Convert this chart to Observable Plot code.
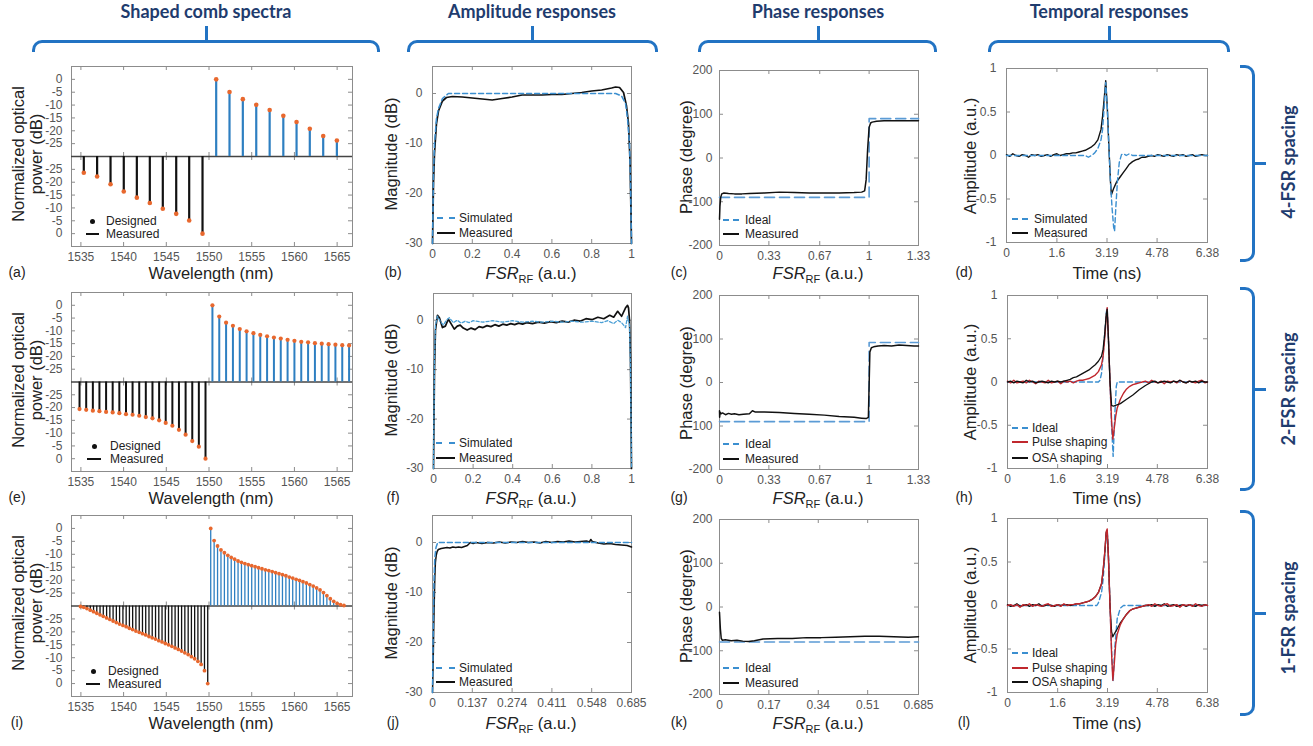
<!DOCTYPE html>
<html><head><meta charset="utf-8">
<script src="https://cdn.jsdelivr.net/npm/d3@7"></script>
<script src="https://cdn.jsdelivr.net/npm/@observablehq/plot@0.6"></script>
<style>
body{margin:0;background:#fff;}
#fig{position:relative;width:1313px;height:746px;overflow:hidden;background:#fff;font-family:"Liberation Sans",Arial,sans-serif;}
.t{position:absolute;white-space:nowrap;transform:translate(-50%,-50%);}
.rot{transform:translate(-50%,-50%) rotate(-90deg);text-align:center;}
.hdr{font-family:Lato,"Open Sans",sans-serif;font-weight:700;font-size:18px;color:#1f3c6e;}
.ttl{font-size:16.5px;color:#222;line-height:18px;}
.lt{font-size:14px;color:#222;}
.lg{position:absolute;font-size:12px;color:#222;white-space:nowrap;transform:translateY(-50%);}
.brT{position:absolute;border:3px solid #2273c3;border-bottom:none;border-radius:10px 10px 0 0;box-sizing:border-box;}
.brR{position:absolute;border:3px solid #2273c3;border-left:none;border-radius:0 10px 10px 0;box-sizing:border-box;}
.bk{position:absolute;background:#2273c3;}
sub{font-size:11px;font-style:normal;line-height:0;}
</style></head>
<body><div id="fig"></div>
<script>
// ---------------- DATA ----------------
const wlTicks = [1535,1540,1545,1550,1555,1560,1565];
const specTicks = [30,25,20,15,10,5,-5,-10,-15,-20,-25,-30];

// (a) 4-FSR spacing
const aUpWl = [1550.84,1552.40,1553.96,1555.53,1557.10,1558.70,1560.25,1561.80,1563.37,1564.97];
const aUpDb = [0,-4.9,-7.7,-9.9,-11.9,-14.2,-16.6,-19.2,-22.0,-23.8];
const aLoWl = [1535.34,1536.90,1538.47,1540.02,1541.55,1543.07,1544.59,1546.16,1547.68,1549.24];
const aLoDb = [-23.7,-22.2,-19.2,-16.4,-14.0,-11.9,-9.7,-7.7,-5.1,0];
// (e) 2-FSR spacing
const eUpWl = [1550.4,1551.2,1552.0,1552.8,1553.6,1554.4,1555.2,1556.0,1556.8,1557.6,1558.4,1559.2,1560.0,1560.8,1561.6,1562.4,1563.2,1564.0,1564.8,1565.6,1566.4];
const eUpDb = [0,-4.4,-6.8,-8.0,-9.3,-10.2,-10.9,-11.6,-12.1,-12.6,-13.0,-13.5,-13.9,-14.3,-14.5,-14.8,-15.0,-15.2,-15.4,-15.6,-15.7];
const eLoWl = [1534.84,1535.62,1536.40,1537.17,1537.95,1538.72,1539.50,1540.28,1541.05,1541.83,1542.60,1543.38,1544.16,1544.93,1545.71,1546.48,1547.26,1548.04,1548.81,1549.59];
const eLoDb = [-19.4,-19.1,-18.8,-18.6,-18.3,-18.1,-17.8,-17.4,-17.2,-16.8,-16.3,-15.8,-15.0,-14.0,-12.9,-11.3,-9.4,-6.9,-4.7,0];
// (i) 1-FSR spacing
const iUpWl = [1550.2,1550.6,1551.0,1551.4,1551.8,1552.2,1552.6,1553.0,1553.4,1553.8,1554.2,1554.6,1555.0,1555.4,1555.8,1556.2,1556.6,1557.0,1557.4,1557.8,1558.2,1558.6,1559.0,1559.4,1559.8,1560.2,1560.6,1561.0,1561.4,1561.8,1562.2,1562.6,1563.0,1563.4,1563.8,1564.2,1564.6,1565.0,1565.4,1565.8];
const iUpDb = [0,-4.7,-6.8,-8.3,-9.4,-10.4,-11.2,-11.9,-12.6,-13.1,-13.6,-14.0,-14.4,-14.8,-15.2,-15.6,-16.0,-16.3,-16.7,-17.1,-17.5,-17.9,-18.3,-18.8,-19.2,-19.7,-20.1,-20.6,-21.1,-21.7,-22.3,-23.0,-23.8,-24.8,-26.0,-27.2,-28.2,-29.0,-29.5,-29.8];
const iLoWl = [1534.95,1535.33,1535.71,1536.10,1536.48,1536.86,1537.24,1537.62,1538.01,1538.39,1538.77,1539.15,1539.53,1539.92,1540.30,1540.68,1541.06,1541.44,1541.83,1542.21,1542.59,1542.97,1543.35,1543.74,1544.12,1544.50,1544.88,1545.26,1545.65,1546.03,1546.41,1546.79,1547.17,1547.56,1547.94,1548.32,1548.70,1549.08,1549.47,1549.85];
const iLoDb = [-29.8,-29.5,-29.0,-28.4,-27.8,-27.2,-26.6,-26.0,-25.4,-24.8,-24.2,-23.6,-23.0,-22.5,-22.0,-21.4,-20.9,-20.3,-19.8,-19.3,-18.8,-18.2,-17.7,-17.2,-16.6,-16.1,-15.5,-15.0,-14.4,-13.8,-13.2,-12.6,-11.9,-11.2,-10.4,-9.6,-8.6,-7.4,-5.0,0];

// Amplitude responses
const magXTicks = [0,0.2,0.4,0.6,0.8,1];
const magXTicksJ = [0,0.137,0.274,0.411,0.548,0.685];
const magYTicks = [-30,-20,-10,0];
const bMeasX = [0,0.005,0.01,0.02,0.03,0.05,0.07,0.1,0.15,0.2,0.25,0.3,0.35,0.4,0.45,0.5,0.55,0.6,0.65,0.7,0.75,0.8,0.85,0.9,0.92,0.94,0.96,0.975,0.985,0.993,1.0];
const bMeasY = [-30,-18,-12,-6,-3.5,-1.5,-0.8,-0.6,-0.7,-0.9,-1.1,-1.3,-1.0,-0.7,-0.3,-0.3,-0.3,-0.2,-0.2,0,0.2,0.5,0.7,1.1,1.3,1.2,0.2,-2.5,-6,-14,-30];
const bSimX = [0,0.005,0.01,0.02,0.03,0.05,0.08,0.92,0.95,0.97,0.98,0.99,0.995,1.0];
const bSimY = [-30,-16,-10,-5,-3,-1,0,0,-0.5,-2,-5,-10,-18,-30];
const fMeasX = [0,0.005,0.01,0.02,0.03,0.045,0.06,0.075,0.09,0.105,0.12,0.135,0.15,0.17,0.19,0.21,0.23,0.25,0.27,0.29,0.31,0.33,0.35,0.37,0.39,0.41,0.43,0.45,0.47,0.5,0.53,0.56,0.59,0.62,0.65,0.68,0.71,0.74,0.77,0.8,0.83,0.86,0.89,0.91,0.93,0.95,0.97,0.98,0.985,0.99,0.995,1.0];
const fMeasY = [-30,-10,-2,1.0,0.5,-1.5,-1.2,0.2,-0.8,-1.8,-1.2,-1.0,-1.6,-2.0,-1.6,-1.9,-1.3,-1.5,-1.1,-1.3,-0.9,-1.2,-0.8,-1.0,-0.7,-0.9,-0.6,-0.8,-0.5,-0.7,-0.4,-0.6,-0.3,-0.5,-0.2,-0.4,0,-0.2,0.3,0.1,0.6,0.3,1.0,0.6,1.8,0.8,2.5,3.0,2.5,0,-8,-30];
const fSimX = [0,0.005,0.01,0.02,0.035,0.05,0.065,0.08,0.1,0.12,0.14,0.16,0.18,0.2,0.25,0.3,0.35,0.4,0.45,0.5,0.55,0.6,0.65,0.7,0.75,0.8,0.85,0.88,0.91,0.93,0.95,0.97,0.98,0.99,0.995,1.0];
const fSimY = [-30,-8,-1,0.8,-0.3,-1.0,0,0.5,-0.5,0,-0.6,-0.2,-0.5,-0.1,-0.4,-0.1,-0.4,-0.1,-0.4,-0.2,-0.4,-0.2,-0.4,-0.2,-0.4,-0.2,-0.5,-0.1,-0.7,0,-0.5,-1.5,0.8,-1,-10,-30];
const jMeasX = [0,0.002,0.004,0.006,0.008,0.01,0.013,0.016,0.02,0.03,0.04,0.05,0.06,0.07,0.08,0.09,0.1,0.11,0.12,0.125,0.13,0.14,0.15,0.17,0.19,0.21,0.23,0.25,0.27,0.29,0.31,0.33,0.35,0.37,0.39,0.41,0.43,0.45,0.47,0.49,0.51,0.53,0.54,0.545,0.55,0.57,0.59,0.61,0.63,0.65,0.67,0.685];
const jMeasY = [-30,-25,-18,-12,-7,-4,-2.5,-1.8,-1.4,-1.2,-1.1,-1.0,-1.1,-0.9,-1.0,-0.9,-1.0,-0.8,-0.6,-0.3,0,-0.2,0,-0.2,0,-0.1,0.1,-0.1,0.1,0,0.2,0,0.1,-0.1,0.2,0,0.2,0.1,0.3,0.1,0.2,0.3,0.1,0.6,0.2,-0.1,-0.3,-0.2,-0.4,-0.5,-0.6,-0.9];
const jSimX = [0,0.002,0.005,0.008,0.012,0.018,0.685];
const jSimY = [-30,-20,-8,-3,-1,0,0];

// Phase responses
const phXTicks = [0,0.33,0.67,1,1.33];
const phXTicksK = [0,0.17,0.34,0.51,0.685];
const phYTicks = [-200,-100,0,100,200];
const cMeasX = [0,0.003,0.008,0.015,0.03,0.06,0.1,0.15,0.2,0.3,0.4,0.5,0.6,0.7,0.8,0.9,0.95,0.97,0.98,0.99,1.0,1.01,1.02,1.05,1.1,1.2,1.33];
const cMeasY = [-140,-110,-90,-82,-80,-81,-82,-82,-81,-80,-78,-79,-80,-80,-80,-79,-78,-75,-50,20,70,80,82,84,85,85,85];
const cIdealX = [0,1,1,1.33];
const cIdealY = [-90,-90,90,90];
const gMeasX = [0,0.001,0.004,0.01,0.02,0.04,0.06,0.08,0.1,0.13,0.16,0.2,0.22,0.24,0.3,0.4,0.5,0.6,0.7,0.8,0.9,0.95,0.98,0.995,1.005,1.015,1.03,1.06,1.1,1.15,1.2,1.25,1.3,1.33];
const gMeasY = [-65,-80,-68,-72,-70,-74,-71,-73,-72,-74,-73,-72,-65,-68,-68,-69,-71,-73,-75,-78,-80,-82,-83,-80,70,80,82,84,85,84,86,85,84,84];
const gIdealX = [0,1,1,1.33];
const gIdealY = [-90,-90,92,92];
const kMeasX = [0,0.003,0.006,0.01,0.02,0.04,0.06,0.08,0.1,0.12,0.15,0.2,0.25,0.3,0.35,0.4,0.45,0.5,0.55,0.6,0.65,0.685];
const kMeasY = [-12,-50,-72,-76,-75,-77,-76,-78,-79,-77,-73,-72,-72,-70,-70,-69,-68,-67,-67,-68,-69,-68];
const kIdealX = [0,0.685];
const kIdealY = [-80,-80];

// Temporal responses
const tXTicks = [0,1.6,3.19,4.78,6.38];
const tYTicks = [-1,-0.5,0,0.5,1];
const dMeasT = [0,0.1,0.2,0.3,0.4,0.5,0.6,0.7,0.8,0.9,1.0,1.1,1.2,1.3,1.4,1.5,1.6,1.7,1.8,1.9,2.0,2.1,2.2,2.3,2.4,2.5,2.6,2.7,2.8,2.9,3.0,3.05,3.1,3.15,3.2,3.25,3.3,3.33,3.4,3.5,3.6,3.7,3.8,3.9,4.0,4.1,4.2,4.3,4.4,4.5,4.6,4.7,4.8,4.9,5.0,5.1,5.2,5.3,5.4,5.5,5.6,5.7,5.8,5.9,6.0,6.1,6.2,6.3,6.38];
const dMeasA = [0.01,-0.01,0.02,0,-0.01,0.01,0,-0.02,0.01,0,0.01,-0.01,0,0.01,-0.01,0.01,0.02,0,0.01,0.02,0.02,0.03,0.03,0.04,0.05,0.06,0.08,0.1,0.13,0.18,0.3,0.45,0.65,0.86,0.55,0.1,-0.3,-0.45,-0.38,-0.3,-0.25,-0.2,-0.15,-0.1,-0.07,-0.05,-0.04,-0.02,-0.02,-0.01,0,-0.01,0.01,0,-0.01,0.01,0,-0.01,0.01,0,0.01,-0.01,0,0.01,-0.01,0,0.01,0,0];
const dSimT = [0,2.5,2.6,2.7,2.8,2.9,3.0,3.05,3.1,3.15,3.2,3.25,3.3,3.35,3.4,3.43,3.47,3.52,3.58,3.65,3.72,3.8,3.9,4.0,4.1,6.38];
const dSimA = [0,0,-0.02,0,0.03,0.08,0.18,0.3,0.55,0.84,0.55,0.1,-0.3,-0.6,-0.82,-0.87,-0.6,-0.3,-0.08,0.01,0.02,0,0.02,0,0,0];
const hIdealT = [0,2.9,2.95,3.0,3.05,3.1,3.15,3.18,3.22,3.27,3.32,3.37,3.42,3.47,3.5,6.38];
const hIdealA = [0,0,0.02,0.1,0.3,0.55,0.8,0.86,0.5,0,-0.5,-0.86,-0.4,-0.05,0,0];
const hPulseT = [0,0.1,0.2,0.3,0.4,0.5,0.6,0.7,0.8,0.9,1.0,1.1,1.2,1.3,1.4,1.5,1.6,1.7,1.8,1.9,2.0,2.1,2.2,2.3,2.4,2.5,2.6,2.7,2.8,2.9,3.0,3.05,3.1,3.15,3.18,3.22,3.27,3.32,3.36,3.4,3.45,3.5,3.6,3.7,3.8,3.9,4.0,4.1,4.2,4.3,4.4,4.5,4.6,4.7,4.8,4.9,5.0,5.1,5.2,5.3,5.4,5.5,5.6,5.7,5.8,5.9,6.0,6.1,6.2,6.3,6.38];
const hPulseA = [0.01,-0.01,0.02,-0.01,0,0.01,-0.01,0.02,0,-0.02,0.01,0,-0.01,0.02,-0.01,0,0.01,-0.02,0.01,0,0.01,-0.01,0.01,0.02,0.02,0.03,0.04,0.06,0.08,0.12,0.2,0.3,0.5,0.75,0.86,0.5,0,-0.45,-0.66,-0.55,-0.4,-0.3,-0.2,-0.13,-0.08,-0.05,-0.03,-0.02,-0.01,0,0.01,-0.01,0.02,0,-0.01,0.01,-0.02,0.01,0,0.01,-0.01,0.02,0,-0.01,0.01,0,-0.01,0.01,0.02,-0.01,0];
const hOsaT = [0,0.1,0.2,0.3,0.4,0.5,0.6,0.7,0.8,0.9,1.0,1.1,1.2,1.3,1.4,1.5,1.6,1.7,1.8,1.9,2.0,2.1,2.2,2.3,2.4,2.5,2.6,2.7,2.8,2.9,3.0,3.05,3.1,3.15,3.18,3.22,3.27,3.32,3.38,3.45,3.6,3.8,4.0,4.2,4.4,4.6,4.7,4.8,4.9,5.0,5.1,5.2,5.3,5.4,5.5,5.6,5.7,5.8,5.9,6.0,6.1,6.2,6.3,6.38];
const hOsaA = [0,0.01,-0.01,0.01,0,-0.01,0.02,0,0.01,-0.01,0,0.01,0,-0.01,0.01,0,0.01,0,0.01,0.02,0.03,0.05,0.06,0.08,0.1,0.12,0.14,0.17,0.2,0.24,0.3,0.38,0.55,0.78,0.84,0.5,0,-0.27,-0.28,-0.27,-0.25,-0.2,-0.15,-0.09,-0.04,0,0.01,-0.01,0,0.01,0,-0.01,0.01,0,0.02,0,-0.01,0.01,0,0.01,-0.01,0.01,0,0];
const lIdealT = [0,2.85,2.9,3.0,3.05,3.1,3.15,3.18,3.22,3.27,3.33,3.37,3.42,3.5,3.6,3.7,6.38];
const lIdealA = [0,0,0.03,0.15,0.3,0.55,0.82,0.87,0.6,0,-0.6,-0.87,-0.5,-0.15,-0.03,0,0];
const lT = [0,0.1,0.2,0.3,0.4,0.5,0.6,0.7,0.8,0.9,1.0,1.1,1.2,1.3,1.4,1.5,1.6,1.7,1.8,1.9,2.0,2.1,2.2,2.3,2.4,2.5,2.6,2.7,2.8,2.9,3.0,3.05,3.1,3.15,3.18,3.22,3.27,3.32,3.36,3.4,3.45,3.5,3.6,3.7,3.8,3.9,4.0,4.1,4.2,4.3,4.4,4.5,4.6,4.7,4.8,4.9,5.0,5.1,5.2,5.3,5.4,5.5,5.6,5.7,5.8,5.9,6.0,6.1,6.2,6.3,6.38];
const lPulseA = [0,0.01,-0.01,0.01,-0.02,0.01,0,0.02,-0.01,0.01,0,-0.01,0.01,0.02,-0.01,0,0.01,-0.01,0.02,0,0.01,0.01,0.02,0.02,0.03,0.04,0.05,0.07,0.1,0.15,0.25,0.4,0.6,0.85,0.88,0.55,0,-0.55,-0.86,-0.7,-0.45,-0.33,-0.22,-0.15,-0.1,-0.06,-0.04,-0.03,-0.02,-0.01,0,0.01,-0.01,0.02,0,-0.01,0.01,0.02,-0.01,0,0.01,-0.02,0.01,0,0.01,-0.01,0.02,0,-0.01,0.01,0];
const lOsaA = [0.01,-0.01,0,0.02,-0.01,0,0.01,-0.01,0.01,0,0.02,-0.01,0,0.01,0,-0.01,0.01,0,0.01,0.01,0,0.01,0.02,0.02,0.03,0.04,0.05,0.07,0.1,0.15,0.25,0.4,0.6,0.84,0.86,0.55,0,-0.3,-0.36,-0.33,-0.3,-0.27,-0.2,-0.15,-0.1,-0.06,-0.04,-0.03,-0.02,-0.01,0,0,0.01,-0.01,0.01,0,0.02,-0.01,0,0.01,-0.01,0,0.01,-0.01,0.01,0,-0.01,0.01,0,0.01,0];

// ---------------- STYLE ----------------
const BLUE = "#2e7fc1", ORANGE = "#e8682e", RED = "#c0272d", DASHB = "#3b8fd0", IDEAL = "#5b9bd5", FR = "#8c8c8c";
const fig = document.getElementById("fig");
const zip = (xs, ys) => xs.map((x, i) => ({x, y: ys[i]}));
const fmt = d => String(d);
const specFmt = v => String(v > 0 ? v - 30 : -v - 30);

function panel(o) {
  const mL = 48, mR = 8, mT = 8, mB = 28, tl = 4;
  const xd = o.xd, yd = o.yd;
  const dy = (yd[1] - yd[0]) * tl / o.h, dx = (xd[1] - xd[0]) * tl / o.w;
  const ticks = [
    Plot.ruleX(o.xt, {x: d => d, y1: () => yd[0], y2: () => yd[0] + dy, stroke: FR}),
    Plot.ruleX(o.xt, {x: d => d, y1: () => yd[1], y2: () => yd[1] - dy, stroke: FR}),
    Plot.ruleY(o.yt, {y: d => d, x1: () => xd[0], x2: () => xd[0] + dx, stroke: FR}),
    Plot.ruleY(o.yt, {y: d => d, x1: () => xd[1], x2: () => xd[1] - dx, stroke: FR})
  ];
  if (o.spec) ticks.push(Plot.ruleX(o.xt, {x: d => d, y1: () => -dy, y2: () => dy, stroke: FR}));
  const p = Plot.plot({
    width: o.w + mL + mR, height: o.h + mT + mB,
    marginLeft: mL, marginRight: mR, marginTop: mT, marginBottom: mB,
    style: {background: "transparent", overflow: "visible", fontFamily: "Liberation Sans, Arial, sans-serif", fontSize: "12px", color: "#555"},
    x: {domain: xd, ticks: o.xt, tickFormat: o.xf || fmt, tickSize: 0, tickPadding: 6, label: null},
    y: {domain: yd, ticks: o.yt, tickFormat: o.yf || fmt, tickSize: 0, tickPadding: o.ypad, label: null},
    marks: [Plot.frame({stroke: FR}), ...ticks, ...o.marks]
  });
  p.style.position = "absolute";
  p.style.left = (o.L - mL) + "px";
  p.style.top = (o.T - mT) + "px";
  fig.appendChild(p);
}

function specMarks(upWl, upDb, loWl, loDb, sw, r) {
  const up = upWl.map((w, i) => ({w, v: 30 + upDb[i]}));
  const lo = loWl.map((w, i) => ({w, v: -(30 + loDb[i])}));
  return [
    Plot.ruleY([0], {stroke: "#444", strokeWidth: 1.5}),
    Plot.ruleX(up, {x: "w", y1: () => 0, y2: "v", stroke: BLUE, strokeWidth: sw}),
    Plot.ruleX(lo, {x: "w", y1: () => 0, y2: "v", stroke: "#111", strokeWidth: sw}),
    Plot.dot(up, {x: "w", y: "v", r, fill: ORANGE}),
    Plot.dot(lo, {x: "w", y: "v", r, fill: ORANGE})
  ];
}
const ln = (xs, ys, stroke, sw, dash) => Plot.line(zip(xs, ys), {x: "x", y: "y", stroke, strokeWidth: sw, strokeDasharray: dash});

// ---------------- PANELS ----------------
const specX = [1533.9, 1566.8], specY = [-35, 35];
panel({L: 71, T: 66, w: 281, h: 180, xd: specX, yd: specY, xt: wlTicks, yt: specTicks, yf: specFmt, ypad: 9, spec: true,
  marks: specMarks(aUpWl, aUpDb, aLoWl, aLoDb, 2.2, 2.3)});
panel({L: 71, T: 292, w: 281, h: 179, xd: specX, yd: specY, xt: wlTicks, yt: specTicks, yf: specFmt, ypad: 9, spec: true,
  marks: specMarks(eUpWl, eUpDb, eLoWl, eLoDb, 2, 2.1)});
panel({L: 71, T: 515, w: 281, h: 181, xd: specX, yd: specY, xt: wlTicks, yt: specTicks, yf: specFmt, ypad: 9, spec: true,
  marks: specMarks(iUpWl, iUpDb, iLoWl, iLoDb, 1.3, 1.9)});

const magY = [-30, 5.4];
panel({L: 432, T: 66, w: 199, h: 177, xd: [0, 1], yd: magY, xt: magXTicks, yt: magYTicks, ypad: 10,
  marks: [ln(bMeasX, bMeasY, "#111", 1.7), ln(bSimX, bSimY, DASHB, 1.5, "5,3")]});
panel({L: 433, T: 293, w: 198, h: 175, xd: [0, 1], yd: magY, xt: magXTicks, yt: magYTicks, ypad: 10,
  marks: [ln(fMeasX, fMeasY, "#111", 1.7), ln(fSimX, fSimY, "#4b9fd5", 1.3, "3,2")]});
panel({L: 432, T: 515, w: 199, h: 177, xd: [0, 0.685], yd: magY, xt: magXTicksJ, yt: magYTicks, ypad: 10,
  marks: [ln(jMeasX, jMeasY, "#111", 1.5), ln(jSimX, jSimY, DASHB, 1.5, "5,3")]});

const phY = [-200, 200];
panel({L: 719, T: 70, w: 199, h: 175, xd: [0, 1.33], yd: phY, xt: phXTicks, yt: phYTicks, ypad: 7,
  marks: [ln(cIdealX, cIdealY, IDEAL, 1.6, "10,5"), ln(cMeasX, cMeasY, "#111", 1.5)]});
panel({L: 719, T: 295, w: 199, h: 174, xd: [0, 1.33], yd: phY, xt: phXTicks, yt: phYTicks, ypad: 7,
  marks: [ln(gIdealX, gIdealY, IDEAL, 1.6, "10,5"), ln(gMeasX, gMeasY, "#111", 1.5)]});
panel({L: 719, T: 519, w: 199, h: 175, xd: [0, 0.685], yd: phY, xt: phXTicksK, yt: phYTicks, ypad: 7,
  marks: [ln(kIdealX, kIdealY, IDEAL, 1.6, "10,5"), ln(kMeasX, kMeasY, "#111", 1.5)]});

const tX = [0, 6.38], tY = [-1, 1];
panel({L: 1006, T: 68, w: 201, h: 174, xd: tX, yd: tY, xt: tXTicks, yt: tYTicks, ypad: 10,
  marks: [ln(dMeasT, dMeasA, "#111", 1.4), ln(dSimT, dSimA, DASHB, 1.4, "5,3")]});
panel({L: 1007, T: 295, w: 200, h: 173, xd: tX, yd: tY, xt: tXTicks, yt: tYTicks, ypad: 10,
  marks: [ln(hIdealT, hIdealA, DASHB, 1.4, "5,3"), ln(hPulseT, hPulseA, RED, 1.4), ln(hOsaT, hOsaA, "#111", 1.3)]});
panel({L: 1007, T: 518, w: 200, h: 174, xd: tX, yd: tY, xt: tXTicks, yt: tYTicks, ypad: 10,
  marks: [ln(lIdealT, lIdealA, DASHB, 1.4, "5,3"), ln(lT, lOsaA, "#111", 1.3), ln(lT, lPulseA, RED, 1.4)]});

// ---------------- TEXT / DECORATION ----------------
function txt(html, x, y, cls) {
  const d = document.createElement("div");
  d.className = "t " + cls; d.innerHTML = html;
  d.style.left = x + "px"; d.style.top = y + "px";
  fig.appendChild(d);
}
function box(cls, x, y, w, h) {
  const d = document.createElement("div");
  d.className = cls; Object.assign(d.style, {left: x + "px", top: y + "px", width: w + "px", height: h + "px"});
  fig.appendChild(d);
}
// headers and braces
[["Shaped comb spectra", 206, 32, 380], ["Amplitude responses", 532, 407, 658], ["Phase responses", 818, 698, 937], ["Temporal responses", 1109, 988, 1230]]
  .forEach(([s, c, l, r]) => { txt(s, c, 11, "hdr"); box("brT", l, 40, r - l, 12); box("bk", c - 1.5, 26, 3, 15); });
[["4-FSR spacing", 65, 262, 162], ["2-FSR spacing", 287, 491, 389], ["1-FSR spacing", 510, 716, 618]]
  .forEach(([s, t, b, c]) => { box("brR", 1240, t, 15, b - t); box("bk", 1252, (t + b) / 2 - 1.5, 14, 3); txt(s, 1288, c, "hdr rot"); });

// axis titles
const rows = [{c: 156, x: 273}, {c: 382, x: 498}, {c: 605, x: 723}];
const FSR = "<i>FSR</i><sub>RF</sub> (a.u.)";
rows.forEach((r, i) => {
  txt("Normalized optical<br>power (dB)", 27, r.c - 2, "ttl rot");
  txt("Magnitude (dB)", 391, r.c - 2, "ttl rot");
  txt("Phase (degree)", 686, r.c + 1, "ttl rot");
  txt("Amplitude (a.u.)", 970, r.c, "ttl rot");
  txt("Wavelength (nm)", 211, r.x, "ttl");
  txt(FSR, 531, r.x, "ttl");
  txt(FSR, 818, r.x, "ttl");
  txt("Time (ns)", 1107, r.x, "ttl");
  const L = ["abcd", "efgh", "ijkl"][i];
  [17, 393, 679, 964].forEach((x, k) => txt("(" + L[k] + ")", x, r.x - 1, "lt"));
});

// legends
function legend(x0, w, tx, items) {
  items.forEach(([y, kind, color, s]) => {
    const d = document.createElement("div");
    d.style.position = "absolute";
    if (kind === "dot") Object.assign(d.style, {left: (x0 + w / 2 - 2.5) + "px", top: (y - 2.5) + "px", width: "5px", height: "5px", borderRadius: "50%", background: color});
    else if (kind === "solid") Object.assign(d.style, {left: x0 + "px", top: (y - 1) + "px", width: w + "px", height: "2px", background: color});
    else Object.assign(d.style, {left: x0 + "px", top: (y - 1) + "px", width: w + "px", height: "0px", borderTop: "2px dashed " + color});
    fig.appendChild(d);
    const t = document.createElement("div");
    t.className = "lg"; t.textContent = s; t.style.left = tx + "px"; t.style.top = y + "px";
    fig.appendChild(t);
  });
}
legend(86, 13, 106, [[221, "dot", "#111", "Designed"], [234, "solid", "#111", "Measured"]]);
legend(87, 14, 110, [[446, "dot", "#111", "Designed"], [459, "solid", "#111", "Measured"]]);
legend(86, 14, 108, [[671, "dot", "#111", "Designed"], [684, "solid", "#111", "Measured"]]);
legend(437, 18, 459, [[218, "dash", DASHB, "Simulated"], [233, "solid", "#111", "Measured"]]);
legend(436, 19, 459, [[443, "dash", DASHB, "Simulated"], [458, "solid", "#111", "Measured"]]);
legend(436, 19, 459, [[668, "dash", DASHB, "Simulated"], [682, "solid", "#111", "Measured"]]);
legend(723, 16, 745, [[220, "dash", DASHB, "Ideal"], [234, "solid", "#111", "Measured"]]);
legend(723, 16, 745, [[444, "dash", DASHB, "Ideal"], [459, "solid", "#111", "Measured"]]);
legend(723, 16, 745, [[668, "dash", DASHB, "Ideal"], [683, "solid", "#111", "Measured"]]);
legend(1012, 16, 1034, [[219, "dash", DASHB, "Simulated"], [233, "solid", "#111", "Measured"]]);
legend(1012, 16, 1032, [[428, "dash", DASHB, "Ideal"], [442, "solid", RED, "Pulse shaping"], [458, "solid", "#111", "OSA shaping"]]);
legend(1012, 16, 1032, [[653, "dash", DASHB, "Ideal"], [668, "solid", RED, "Pulse shaping"], [682, "solid", "#111", "OSA shaping"]]);
</script></body></html>
